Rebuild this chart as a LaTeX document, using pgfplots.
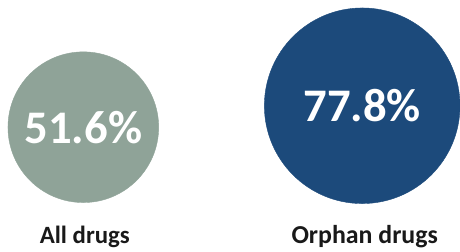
\documentclass[border=0pt]{standalone}
\usepackage{pgfplots}
\pgfplotsset{compat=1.18}
\usepackage{fontspec}
\setmainfont{Carlito}
\definecolor{cgray}{HTML}{8FA398}
\definecolor{cnavy}{HTML}{1C4A7B}
\begin{document}
\begin{tikzpicture}
\begin{axis}[
  width=460bp, height=252bp, scale only axis,
  xmin=0, xmax=460, ymin=0, ymax=252,
  axis lines=none, clip=false,
  point meta=explicit symbolic,
  nodes near coords,
  every node near coord/.append style={anchor=center, text=white,
     font=\bfseries\fontsize{47}{50}\selectfont},
]
\path (axis cs:0,0) rectangle (axis cs:460,252);
% All drugs: 51.6%
\addplot[cgray, only marks, mark=*, mark size=75.8pt, mark options={fill=cgray, draw=cgray}]
  coordinates {(83.5,124.5) [51.6\%]};
% Orphan drugs: 77.8%
\addplot[cnavy, only marks, mark=*, mark size=98.4pt, mark options={fill=cnavy, draw=cnavy}]
  coordinates {(363,146) [77.8\%]};
\node[anchor=base, font=\bfseries\fontsize{25}{28}\selectfont, text=black!90]
  at (axis cs:85,7.5) {All drugs};
\node[anchor=base, font=\bfseries\fontsize{26}{28}\selectfont, text=black!90]
  at (axis cs:365.5,8) {Orphan drugs};
\end{axis}
\end{tikzpicture}
\end{document}
